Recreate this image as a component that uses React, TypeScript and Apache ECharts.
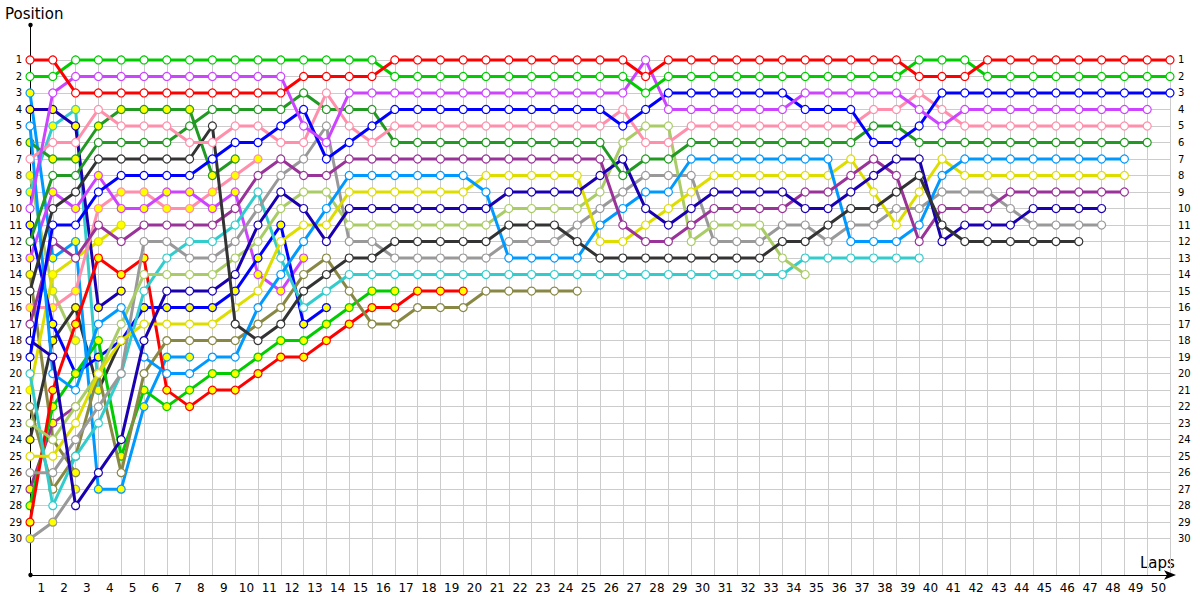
import React, { useEffect, useRef } from "react";
import * as echarts from "echarts";

// Positions per lap (index = lap, 0 = start grid). Lines end when the car stops.
const redW = [1,1,3,3,3,3,3,3,3,3,3,3,2,2,2,2,1,1,1,1,1,1,1,1,1,1,1,2,1,1,1,1,1,1,1,1,1,1,1,2,2,2,1,1,1,1,1,1,1,1,1];
const greenW = [2,2,1,1,1,1,1,1,1,1,1,1,1,1,1,1,2,2,2,2,2,2,2,2,2,2,2,3,2,2,2,2,2,2,2,2,2,2,2,1,1,1,2,2,2,2,2,2,2,2,2];
const violetW = [10,3,2,2,2,2,2,2,2,2,2,2,5,6,3,3,3,3,3,3,3,3,3,3,3,3,3,1,4,4,4,4,4,4,3,3,3,3,3,4,5,4,4,4,4,4,4,4,4,4];
const blueW = [19,11,11,9,8,8,8,8,7,6,6,5,4,7,6,5,4,4,4,4,4,4,4,4,4,4,5,4,3,3,3,3,3,3,4,4,4,6,6,5,3,3,3,3,3,3,3,3,3,3,3];
const pinkW = [7,6,6,4,5,5,5,6,6,5,5,6,6,3,5,6,5,5,5,5,5,5,5,5,5,5,4,6,6,5,5,5,5,5,5,5,5,4,4,3,4,5,5,5,5,5,5,5,5,5];
const dkGreenW = [12,8,8,6,6,6,6,5,4,4,4,4,3,4,4,4,6,6,6,6,6,6,6,6,6,6,8,7,7,6,6,6,6,6,6,6,6,5,5,6,6,6,6,6,6,6,6,6,6,6];
const dkGrayW = [15,10,9,7,7,7,7,7,5,17,18,17,15,14,13,13,12,12,12,12,12,11,11,11,12,13,13,13,13,13,13,13,13,12,12,11,10,10,9,8,11,12,12,12,12,12,12];
const navyW = [18,19,28,26,24,18,15,15,15,14,11,9,10,12,10,10,10,10,10,10,10,9,9,9,9,8,7,10,11,10,9,9,9,9,10,10,9,8,7,7,12,11,11,11,10,10,10,10];
const purpleW = [17,12,13,11,12,11,11,11,11,10,8,7,8,8,7,7,7,7,7,7,7,7,7,7,7,7,11,12,12,11,10,10,10,10,9,9,8,7,8,12,10,10,10,9,9,9,9,9,9];
const ltBlueW = [5,20,21,17,16,19,20,20,19,19,16,14,12,10,8,8,8,8,8,8,9,13,13,13,13,11,10,9,9,7,7,7,7,7,7,7,12,12,12,11,8,7,7,7,7,7,7,7,7];
const yellowW = [25,25,23,20,18,17,17,17,17,16,15,12,11,11,9,9,9,9,9,9,8,8,8,8,8,12,12,11,10,9,8,8,8,8,8,8,7,9,11,9,7,8,8,8,8,8,8,8,8];
const ltGreenW = [23,24,22,20,17,14,14,14,14,13,12,10,9,9,11,11,11,11,11,11,11,10,10,10,10,9,6,5,5,12,11,11,11,13,14];
const grayW = [26,26,24,22,20,12,12,13,13,12,10,8,7,5,12,12,13,13,13,13,13,12,12,12,11,10,9,8,8,8,12,12,12,11,11,12,11,11,10,10,9,9,9,10,11,11,11,11];
const cyanW = [20,28,25,23,20,15,13,12,12,11,9,13,16,15,14,14,14,14,14,14,14,14,14,14,14,14,14,14,14,14,14,14,14,14,13,13,13,13,13,13];
const oliveW = [22,27,25,20,26,20,18,18,18,18,17,16,14,13,15,17,17,16,16,16,15,15,15,15,15];

const redY = [29,21,17,13,14,13,21,22,21,21,20,19,19,18,17,16,16,15,15,15];
const greenY = [28,22,20,18,25,21,22,21,20,20,19,18,18,17,16,15,15];
const blueY = [11,17,20,19,18,16,16,16,16,15,13,11,17,16];
const violetY = [13,9,10,8,10,10,9,9,10,9,14,15,13];
const pinkY = [16,16,15,10,9,9,10,10,9,8,7];
const dkGreenY = [6,7,7,5,4,4,4,4,8,7];
const navyY = [4,4,5,16,15];
const ltBlueY = [3,13,12,27,27,22,19,19];
const cyanY = [9,5,4,21];
const dkGrayY = [24,18,16,21,18];
const yellowY = [21,14,13,12,11];
const purpleY = [27,23,22];
const ltGreenY = [8,15,18];
const oliveY = [14,24,26];
const grayY = [30,29,27];

const posLabels = [1,2,3,4,5,6,7,8,9,10,11,12,13,14,15,16,17,18,19,20,21,22,23,24,25,26,27,28,29,30];

const WHITE = "#ffffff";
const YEL = "#ffff00";

const drivers = [
  { name: "Grey B", color: "#999999", fill: YEL, pos: grayY },
  { name: "Olive B", color: "#888844", fill: YEL, pos: oliveY },
  { name: "Light green B", color: "#aacc66", fill: YEL, pos: ltGreenY },
  { name: "Purple B", color: "#993399", fill: YEL, pos: purpleY },
  { name: "Yellow B", color: "#dddd00", fill: YEL, pos: yellowY },
  { name: "Dark grey B", color: "#333333", fill: YEL, pos: dkGrayY },
  { name: "Cyan B", color: "#33cccc", fill: YEL, pos: cyanY },
  { name: "Light blue B", color: "#0099ff", fill: YEL, pos: ltBlueY },
  { name: "Navy B", color: "#1a00b0", fill: YEL, pos: navyY },
  { name: "Dark green B", color: "#229922", fill: YEL, pos: dkGreenY },
  { name: "Pink B", color: "#ff8fab", fill: YEL, pos: pinkY },
  { name: "Violet B", color: "#cc44ff", fill: YEL, pos: violetY },
  { name: "Blue B", color: "#0000ff", fill: YEL, pos: blueY },
  { name: "Green B", color: "#00cc00", fill: YEL, pos: greenY },
  { name: "Red B", color: "#ff0000", fill: YEL, pos: redY },
  { name: "Olive", color: "#888844", fill: WHITE, pos: oliveW },
  { name: "Cyan", color: "#33cccc", fill: WHITE, pos: cyanW },
  { name: "Grey", color: "#999999", fill: WHITE, pos: grayW },
  { name: "Light green", color: "#aacc66", fill: WHITE, pos: ltGreenW },
  { name: "Yellow", color: "#dddd00", fill: WHITE, pos: yellowW },
  { name: "Light blue", color: "#0099ff", fill: WHITE, pos: ltBlueW },
  { name: "Purple", color: "#993399", fill: WHITE, pos: purpleW },
  { name: "Navy", color: "#1a00b0", fill: WHITE, pos: navyW },
  { name: "Dark grey", color: "#333333", fill: WHITE, pos: dkGrayW },
  { name: "Dark green", color: "#229922", fill: WHITE, pos: dkGreenW },
  { name: "Pink", color: "#ff8fab", fill: WHITE, pos: pinkW },
  { name: "Blue", color: "#0000ff", fill: WHITE, pos: blueW },
  { name: "Violet", color: "#cc44ff", fill: WHITE, pos: violetW },
  { name: "Green", color: "#00cc00", fill: WHITE, pos: greenW },
  { name: "Red", color: "#ff0000", fill: WHITE, pos: redW },
];

const FONT = "DejaVu Sans";
const Y_MIN = 0.7;
const Y_MAX = 32.2;
const GRID_TOP = 55;
const GRID_BOTTOM = 25;
const PLOT_H = 600 - GRID_TOP - GRID_BOTTOM;
// second (grid-line only) grid ends half a row below position 30, same scale
const GRID_LINES_MAX = 30.5;
const GRID2_BOTTOM = 600 - GRID_TOP - ((GRID_LINES_MAX - Y_MIN) / (Y_MAX - Y_MIN)) * PLOT_H;

export default function App() {
  const ref = useRef<HTMLDivElement>(null);
  useEffect(() => {
    if (!ref.current) return;
    const chart = echarts.init(ref.current, undefined, { renderer: "svg" });
    const posFmt = (v: number) => (Number.isInteger(v) && posLabels.includes(v) ? String(v) : "");
    chart.setOption({
      animation: false,
      backgroundColor: "#ffffff",
      grid: [
        { left: 30, right: 30, top: GRID_TOP, bottom: GRID_BOTTOM, containLabel: false },
        { left: 30, right: 30, top: GRID_TOP, bottom: GRID2_BOTTOM, containLabel: false },
      ],
      xAxis: [
        {
          type: "value",
          gridIndex: 0,
          min: 0,
          max: 50,
          interval: 1,
          axisLine: {
            show: true,
            lineStyle: { color: "#000000", width: 1 },
            symbol: ["none", "arrow"],
            symbolSize: [7, 12],
            symbolOffset: [0, 6],
          },
          axisTick: { show: false },
          splitLine: { show: true, lineStyle: { color: "#cccccc", width: 1 } },
          axisLabel: {
            margin: 7,
            formatter: (v: number) => (v >= 1 && v <= 50 ? "{a|" + v + "}" : ""),
            rich: { a: { padding: [0, 23, 0, 0], fontSize: 12, fontFamily: FONT, color: "#000" } },
          },
        },
        {
          type: "value",
          gridIndex: 1,
          min: 0,
          max: 50,
          show: false,
        },
      ],
      yAxis: [
        {
          type: "value",
          gridIndex: 0,
          inverse: true,
          min: Y_MIN,
          max: Y_MAX,
          minInterval: 1,
          maxInterval: 1,
          splitNumber: 32,
          axisLine: { show: true, lineStyle: { color: "#000000", width: 1 } },
          axisTick: { show: false },
          splitLine: { show: false },
          axisLabel: { formatter: posFmt, fontSize: 10, fontFamily: FONT, color: "#000", margin: 8 },
        },
        {
          type: "value",
          gridIndex: 0,
          inverse: true,
          position: "right",
          min: Y_MIN,
          max: Y_MAX,
          minInterval: 1,
          maxInterval: 1,
          splitNumber: 32,
          axisLine: { show: false },
          axisTick: { show: false },
          splitLine: { show: false },
          axisLabel: { formatter: posFmt, fontSize: 10, fontFamily: FONT, color: "#000", margin: 8, align: "left" },
        },
        {
          type: "value",
          gridIndex: 1,
          inverse: true,
          min: Y_MIN,
          max: GRID_LINES_MAX,
          minInterval: 1,
          maxInterval: 1,
          splitNumber: 30,
          axisLine: { show: false },
          axisTick: { show: false },
          axisLabel: { show: false },
          splitLine: { show: true, showMinLine: false, showMaxLine: false, lineStyle: { color: "#cccccc", width: 1 } },
        },
      ],
      graphic: [
        { type: "text", left: 5, top: 6, style: { text: "Position", fontSize: 15, fontFamily: FONT, fill: "#000" } },
        { type: "text", left: 1140, top: 555, style: { text: "Laps", fontSize: 15, fontFamily: FONT, fill: "#000" } },
        { type: "line", shape: { x1: 30.5, y1: 25, x2: 30.5, y2: 56 }, style: { stroke: "#000", lineWidth: 1 } },
        { type: "circle", shape: { cx: 30.5, cy: 25, r: 2.2 }, style: { fill: "#000" } },
        { type: "circle", shape: { cx: 30.5, cy: 575, r: 2.2 }, style: { fill: "#000" } },
      ],
      series: drivers.map((d, k) => ({
        type: "line",
        name: d.name,
        xAxisIndex: 0,
        yAxisIndex: 0,
        data: d.pos.map((p, i) => [i, p]),
        symbol: "circle",
        symbolSize: 8,
        showAllSymbol: true,
        lineStyle: { color: d.color, width: 3 },
        itemStyle: { color: d.fill, borderColor: d.color, borderWidth: 1.2 },
        emphasis: { disabled: true },
        z: 2 + k * 0.01,
      })),
    });
    return () => chart.dispose();
  }, []);
  return <div ref={ref} style={{ position: "absolute", left: 0, top: 0, width: 1200, height: 600 }} />;
}
